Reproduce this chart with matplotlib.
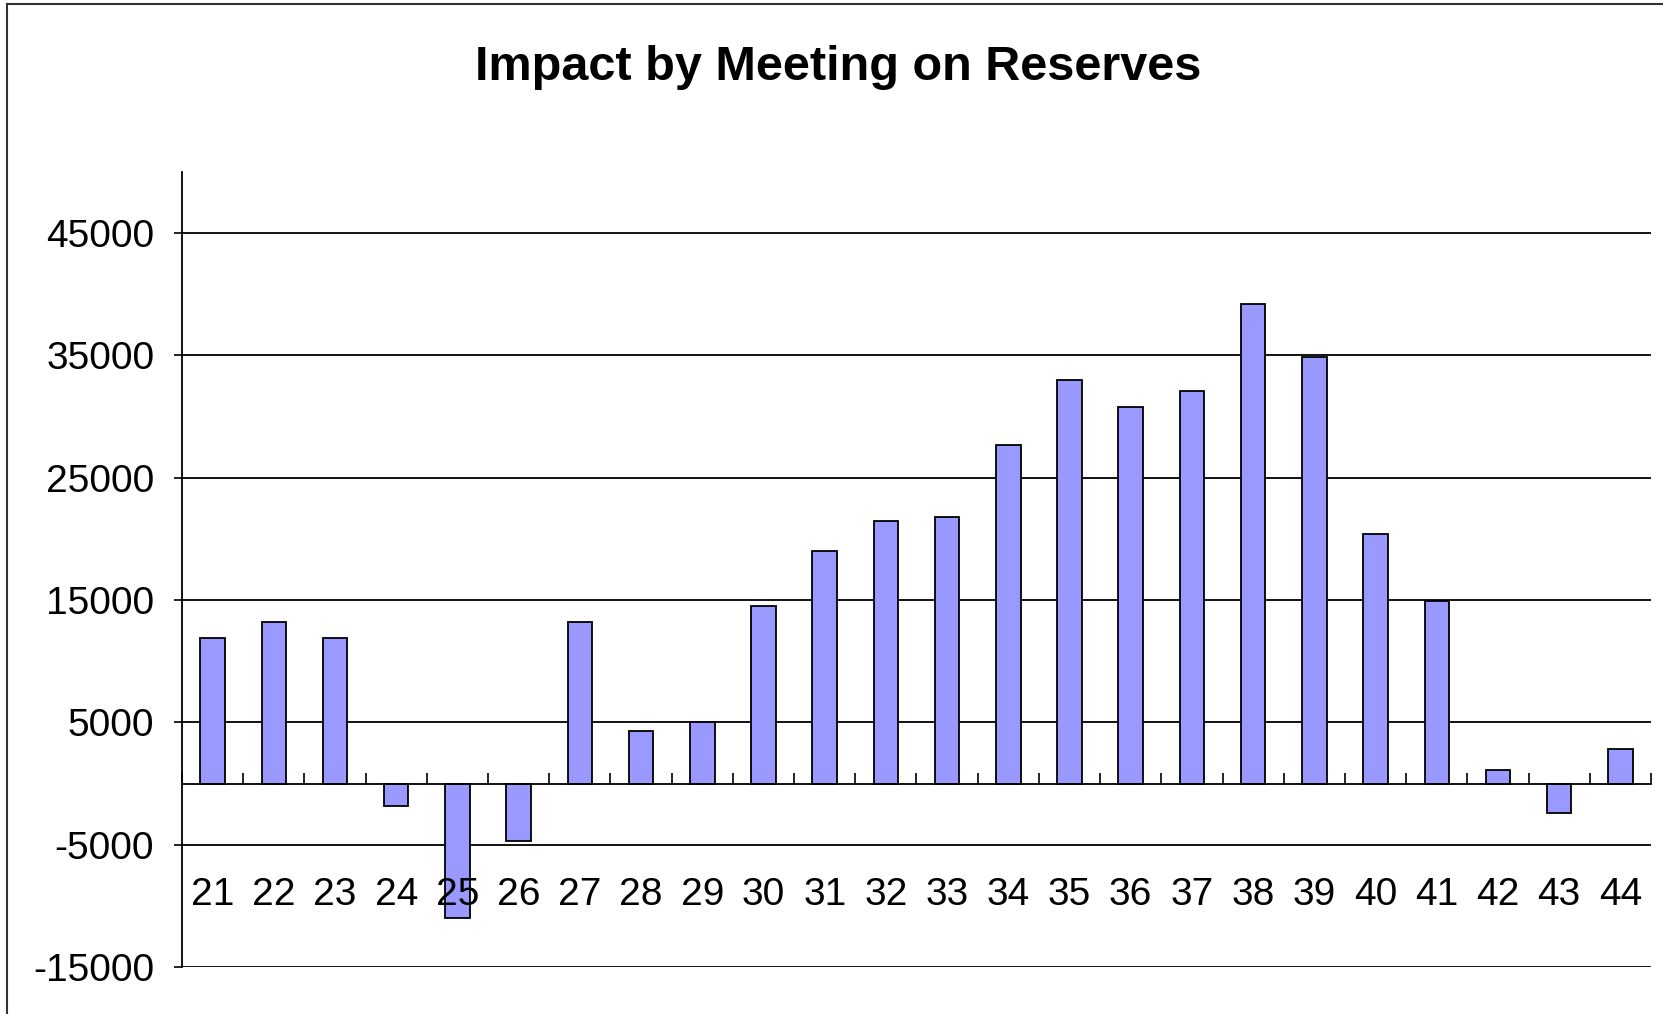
import matplotlib
matplotlib.use('Agg')
import matplotlib.pyplot as plt
from matplotlib.lines import Line2D
import numpy as np

plt.rcParams['font.family'] = ['Liberation Sans', 'DejaVu Sans']

meetings = [str(m) for m in range(21, 45)]
impact = [11900, 13200, 11900, -1800, -11000, -4700, 13200, 4300, 5000, 14500,
          19000, 21500, 21800, 27700, 33000, 30800, 32100, 39200, 34900, 20400,
          14900, 1100, -2400, 2800]
y_ticks = [45000, 35000, 25000, 15000, 5000, -5000, -15000]

W, H = 1663, 1014
fig = plt.figure(figsize=(W / 100, H / 100), dpi=100)
ax = fig.add_axes([182 / W, 1 - 967 / H, (1651 - 182) / W, (967 - 172) / H])

x = np.arange(len(meetings))
ax.bar(x, impact, width=0.4, color='#9999ff', edgecolor='black', linewidth=1.3, zorder=2)

# gridlines behind the bars
for v in y_ticks:
    ax.axhline(v, color='black', linewidth=1.3, zorder=1)

ax.set_xlim(-0.5, len(meetings) - 0.5)
ax.set_ylim(-15000, 50000)

# y axis
ax.set_yticks(y_ticks)
ax.set_yticklabels([str(v) for v in y_ticks])
ax.tick_params(axis='y', direction='out', length=6, width=1.2, pad=14,
               labelsize=28, colors='black')

# x axis on the zero line, labels sit low (drawn above the bars)
ax.spines['bottom'].set_position(('data', 0))
ax.spines['bottom'].set_linewidth(1.3)
ax.spines['left'].set_linewidth(1.3)
ax.spines['top'].set_visible(False)
ax.spines['right'].set_visible(False)
ax.set_xticks(x)
ax.set_xticklabels(meetings)
ax.set_xticks(np.arange(len(meetings) + 1) - 0.5, minor=True)
ax.tick_params(axis='x', which='major', length=0, pad=67, labelsize=28)
ax.tick_params(axis='x', which='minor', direction='in', length=8, width=1.2)
ax.xaxis.set_zorder(5)

fig.text(838 / W, 1 - 67 / H, 'Impact by Meeting on Reserves', ha='center', va='center',
         fontsize=35, fontweight='bold')

# chart border (cropped on right/bottom)
bx, by = 7 / W, 1 - 4 / H
fig.add_artist(Line2D([bx, bx], [0, by], transform=fig.transFigure, color='#333333', lw=1.5))
fig.add_artist(Line2D([bx, 1], [by, by], transform=fig.transFigure, color='#333333', lw=1.5))

fig.savefig('out.png', dpi=100, facecolor='white')
